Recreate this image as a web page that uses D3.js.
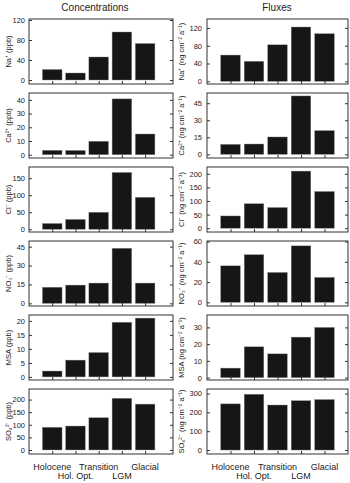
<!DOCTYPE html>
<html><head><meta charset="utf-8">
<script src="https://cdn.jsdelivr.net/npm/d3@7"></script>
<style>body{margin:0;background:#fff}svg{display:block}</style>
</head><body>
<script>
const periods = ["Holocene","Hol. Opt.","Transition","LGM","Glacial"];
const species = ["Na", "Ca", "Cl", "NO3", "MSA", "SO4"];

// Concentrations (ppb)
const concNa  = [21, 14, 46, 96, 73];
const concCa  = [3.2, 3.1, 9.8, 40.7, 15.1];
const concCl  = [17, 29, 50, 167, 94];
const concNO3 = [12.8, 14.5, 16.1, 43.7, 16.1];
const concMSA = [2.1, 6.0, 8.7, 19.5, 21.0];
const concSO4 = [90, 95, 128, 205, 182];

// Fluxes (ng cm-2 a-1)
const fluxNa  = [59, 45, 82, 122, 107];
const fluxCa  = [8.8, 9.1, 15.3, 51.4, 20.9];
const fluxCl  = [45, 90, 76, 210, 135];
const fluxNO3 = [36, 47, 29.5, 55.7, 24.6];
const fluxMSA = [5.7, 18.4, 14.2, 24.2, 30];
const fluxSO4 = [245, 296, 239, 262, 268];

// Tick labels
const concTicks = [[0,40,80,120],[0,10,20,30,40],[0,50,100,150],[0,15,30,45],[0,5,10,15,20],[0,50,100,150,200]];
const fluxTicks = [[0,40,80,120],[0,15,30,45],[0,50,100,150,200],[0,20,40,60],[0,10,20,30],[0,100,200,300]];
const concDomains = [[-8,122],[-2.4,45],[-8,183],[-2.1,49.5],[-1.1,22.1],[-16,242]];
const fluxDomains = [[-6,140],[-3.2,54],[-14,225],[-3.6,60.5],[-1.4,37.4],[-21,324]];

const concLabels = ["Na\u207A (ppb)","Ca\u00B2\u207A (ppb)","Cl\u207B (ppb)","NO\u2083\u207B (ppb)","MSA (ppb)","SO\u2084\u00B2\u207B (ppb)"];
const fluxLabels = ["Na\u207A (ng cm\u207B\u00B2 a\u207B\u00B9)","Ca\u00B2\u207A (ng cm\u207B\u00B2 a\u207B\u00B9)","Cl\u207B (ng cm\u207B\u00B2 a\u207B\u00B9)","NO\u2083\u207B (ng cm\u207B\u00B2 a\u207B\u00B9)","MSA (ng cm\u207B\u00B2 a\u207B\u00B9)","SO\u2084\u00B2\u207B (ng cm\u207B\u00B2 a\u207B\u00B9)"];

const concData = [concNa, concCa, concCl, concNO3, concMSA, concSO4];
const fluxData = [fluxNa, fluxCa, fluxCl, fluxNO3, fluxMSA, fluxSO4];

const W = 350, H = 483;
const svg = d3.select("body").append("svg").attr("width", W).attr("height", H)
  .style("font-family", "'Liberation Sans', Arial, sans-serif");

const panelTop0 = 19, panelStep = 74, panelH = 65;
const columns = [
  {x0: 29, x1: 173, xdom: [-1, 5.2], data: concData, ticks: concTicks, domains: concDomains, labels: concLabels, labelX: 11, titleX: 95, pad: 4, title: "Concentrations"},
  {x0: 207, x1: 348, xdom: [-1, 5], data: fluxData, ticks: fluxTicks, domains: fluxDomains, labels: fluxLabels, labelX: 184, titleX: 277, pad: 5, title: "Fluxes"}
];

const barW = 19.6;
columns.forEach(col => {
  const x = d3.scaleLinear().domain(col.xdom).range([col.x0, col.x1]);
  svg.append("text").attr("x", col.titleX).attr("y", 11)
    .attr("text-anchor", "middle").attr("font-size", 10).attr("fill", "#222").text(col.title);

  col.data.forEach((vals, p) => {
    const top = panelTop0 + p * panelStep, bot = top + panelH;
    const y = d3.scaleLinear().domain(col.domains[p]).range([bot, top]);
    const g = svg.append("g");
    g.selectAll("rect.bar").data(vals).join("rect").attr("class", "bar")
      .attr("x", (d, i) => x(i) - barW / 2).attr("width", barW)
      .attr("y", d => y(d)).attr("height", d => y(0) - y(d))
      .attr("fill", "#161616").attr("stroke", "#888").attr("stroke-width", 0.4);
    const ax = d3.axisLeft(y).tickValues(col.ticks[p]).tickSize(-3).tickPadding(col.pad).tickFormat(d3.format("d"));
    const ga = g.append("g").attr("transform", `translate(${col.x0},0)`).call(ax);
    ga.select(".domain").remove();
    ga.selectAll("text").attr("font-size", 7.5).attr("fill", "#222").style("font-family", "'Liberation Sans', Arial, sans-serif");
    ga.selectAll("line").attr("stroke", "#333");
    const ar = d3.axisRight(y).tickValues(col.ticks[p]).tickSize(-3).tickFormat("");
    const gr = g.append("g").attr("transform", `translate(${col.x1},0)`).call(ar);
    gr.select(".domain").remove();
    gr.selectAll("line").attr("stroke", "#333");
    const ab = d3.axisBottom(x).tickValues(d3.range(5)).tickSize(-3).tickFormat("");
    const gb = g.append("g").attr("transform", `translate(0,${bot})`).call(ab);
    gb.select(".domain").remove();
    gb.selectAll("line").attr("stroke", "#333");
    g.append("rect").attr("x", col.x0).attr("y", top).attr("width", col.x1 - col.x0).attr("height", panelH)
      .attr("fill", "none").attr("stroke", "#333").attr("stroke-width", 1);
    g.append("text").attr("transform", `translate(${col.labelX},${(top + bot) / 2}) rotate(-90)`)
      .attr("text-anchor", "middle").attr("font-size", 7.5).attr("fill", "#222").text(col.labels[p]);
  });

  svg.selectAll(null).data(periods).join("text")
    .attr("x", (d, i) => x(i)).attr("y", (d, i) => i % 2 === 0 ? 470 : 479)
    .attr("text-anchor", "middle").attr("font-size", 9).attr("fill", "#222").text(d => d);
});
</script>
</body></html>
